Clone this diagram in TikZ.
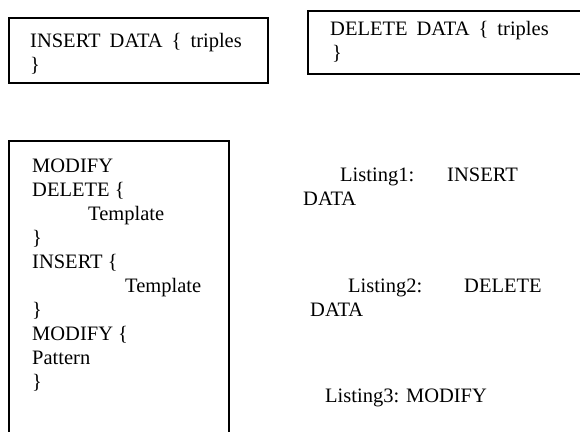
\documentclass[tikz,border=0pt]{standalone}
\usepackage{fontspec}
\setmainfont{Liberation Serif}
\usetikzlibrary{positioning}

\begin{document}
\begin{tikzpicture}[
    x=1pt, y=-1pt,
    listbox/.style={draw, line width=1.6pt, anchor=north west, inner sep=0pt},
    % multi-line text: base west sits on the baseline of the last line
    code/.style={anchor=base west, align=left, inner sep=0pt,
      font=\fontsize{20.5}{24}\selectfont},
    wide/.style={code, execute at begin node={\spaceskip=9pt\relax}},
  ]
    \useasboundingbox (0,0) rectangle (580,431);
    \clip (0,0) rectangle (580,431);

    % the three listing frames
    \node[listbox, minimum width=259pt, minimum height=65pt] (insertbox) at (8,17) {};
    \node[listbox, minimum width=290pt, minimum height=63pt] (deletebox) at (307,10) {};
    \node[listbox, minimum width=220pt, minimum height=310pt] (modifybox) at (8,140) {};

    % code inside the frames
    \node[wide] (insertcode) at (30,71) {INSERT DATA \{ triples\\\}};
    \node[wide] (deletecode) at (330,59) {DELETE DATA \{ triples\\\hspace*{2pt}\}};
    \node[code] (modifycode) at (32,388) {MODIFY\\
      DELETE \{\\
      \hspace*{56pt}Template\\
      \}\\
      INSERT \{\\
      \hspace*{93pt}Template\\
      \}\\
      MODIFY \{\\
      Pattern\\
      \}};

    % captions
    \node[code] (listing1) at (303,205) {\hspace*{37pt}Listing1:\hspace{33pt}INSERT\\DATA};
    \node[code] (listing2) at (310,316) {\hspace*{38pt}Listing2:\hspace{42pt}DELETE\\DATA};
    \node[code] (listing3) at (325,402) {Listing3: MODIFY};
\end{tikzpicture}
\end{document}
